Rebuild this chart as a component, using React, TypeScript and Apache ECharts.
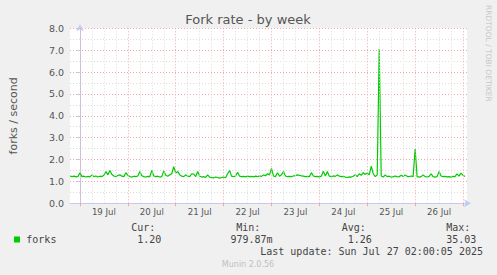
import React, { useEffect, useRef } from "react";
import * as echarts from "echarts";

// hourly values, first point = 18 Jul 19:00 (hour -5 relative to 19 Jul 00:00)
const startHour = -5;
const forks: number[] = [
  // 18 Jul 19:00-23:00
  1.25, 1.22, 1.24, 1.21, 1.23,
  // 19 Jul
  1.4, 1.22, 1.24, 1.2, 1.23, 1.21, 1.3, 1.22, 1.25, 1.2, 1.24, 1.22,
  1.28, 1.45, 1.3, 1.5, 1.32, 1.25, 1.22, 1.27, 1.3, 1.24, 1.22, 1.4,
  // 20 Jul
  1.28, 1.22, 1.2, 1.24, 1.22, 1.25, 1.45, 1.26, 1.22, 1.2, 1.23, 1.22,
  1.5, 1.25, 1.22, 1.24, 1.2, 1.22, 1.48, 1.28, 1.24, 1.3, 1.35, 1.67,
  // 21 Jul
  1.38, 1.45, 1.3, 1.24, 1.22, 1.3, 1.24, 1.22, 1.35, 1.33, 1.22, 1.45,
  1.24, 1.2, 1.22, 1.18, 1.3, 1.2, 1.18, 1.16, 1.2, 1.18, 1.15, 1.18,
  // 22 Jul
  1.2, 1.17, 1.35, 1.5, 1.24, 1.22, 1.25, 1.42, 1.24, 1.22, 1.23, 1.21,
  1.24, 1.22, 1.23, 1.21, 1.24, 1.22, 1.25, 1.23, 1.3, 1.26, 1.35, 1.3,
  // 23 Jul
  1.6, 1.25, 1.22, 1.4, 1.24, 1.3, 1.45, 1.25, 1.22, 1.23, 1.22, 1.25,
  1.26, 1.3, 1.28, 1.25, 1.24, 1.22, 1.23, 1.22, 1.4, 1.25, 1.22, 1.23,
  // 24 Jul
  1.21, 1.24, 1.47, 1.25, 1.45, 1.24, 1.22, 1.25, 1.23, 1.3, 1.24, 1.22,
  1.23, 1.2, 1.18, 1.21, 1.2, 1.24, 1.3, 1.22, 1.35, 1.28, 1.4, 1.32,
  // 25 Jul
  1.38, 1.3, 1.7, 1.35, 1.22, 1.3, 7.05, 1.25, 1.2, 1.3, 1.22, 1.24,
  1.2, 1.22, 1.25, 1.22, 1.21, 1.28, 1.22, 1.3, 1.23, 1.22, 1.25, 1.22,
  // 26 Jul
  2.48, 1.22, 1.2, 1.22, 1.3, 1.22, 1.21, 1.23, 1.35, 1.22, 1.2, 1.22,
  1.45, 1.25, 1.22, 1.23, 1.21, 1.22, 1.2, 1.23, 1.22, 1.35, 1.24, 1.38,
  // 27 Jul 00:00-01:00
  1.28, 1.22,
];

const dayLabels = ["19 Jul", "20 Jul", "21 Jul", "22 Jul", "23 Jul", "24 Jul", "25 Jul", "26 Jul"];
const legendHeaders = ["Cur:", "Min:", "Avg:", "Max:"];
const legendValues = ["1.20", "979.87m", "1.26", "35.03"];
const seriesName = "forks";
const titleText = "Fork rate - by week";
const yAxisName = "forks / second";
const lastUpdate = "Last update: Sun Jul 27 02:00:05 2025";
const footer = "Munin 2.0.56";
const sideText = "RRDTOOL / TOBI OETIKER";

const X_MIN = -5;
const X_MAX = 194;

export default function App() {
  const ref = useRef<HTMLDivElement>(null);
  useEffect(() => {
    if (!ref.current) return;
    const chart = echarts.init(ref.current, undefined, { renderer: "svg" });
    const majorHours: number[] = [];
    const minorHours: number[] = [];
    for (let h = 0; h <= X_MAX; h += 6) {
      if (h % 24 === 0) majorHours.push(h);
      else minorHours.push(h);
    }
    const labelHours = dayLabels.map((_, i) => i * 24 + 12);
    const lavender = "#c4cbf0";
    const red = "#f0a8a8";
    const gray = "#dcdcdc";
    const headerX = [131.2, 236.2, 341.8, 446.2];
    const valueX = [137.2, 230.5, 347.8, 446.2];
    const option: any = {
      animation: false,
      backgroundColor: "#f0f0f0",
      textStyle: { fontFamily: "DejaVu Sans" },
      grid: {
        left: 67,
        top: 28.3,
        width: 400,
        height: 175,
        show: true,
        backgroundColor: "#ffffff",
        borderWidth: 0,
      },
      xAxis: {
        type: "value",
        min: X_MIN,
        max: X_MAX,
        axisLine: {
          show: true,
          lineStyle: { color: lavender, width: 1 },
          symbol: ["none", "arrow"],
          symbolSize: [6, 7],
          symbolOffset: [0, 4],
        },
        axisTick: {
          show: true,
          customValues: majorHours,
          length: 3,
          lineStyle: { color: red },
        },
        axisLabel: {
          customValues: labelHours,
          formatter: (v: number) => dayLabels[Math.round((v - 12) / 24)] ?? "",
          fontSize: 8.6,
          color: "#555",
          margin: 4,
          fontFamily: "DejaVu Sans",
        },
        splitLine: { show: false },
      },
      yAxis: {
        type: "value",
        min: 0,
        max: 8,
        interval: 1,
        name: yAxisName,
        nameLocation: "middle",
        nameGap: 51,
        nameRotate: 90,
        nameTextStyle: { fontSize: 11, color: "#555", fontFamily: "DejaVu Sans" },
        axisLine: {
          show: true,
          lineStyle: { color: lavender, width: 1 },
          symbol: ["none", "arrow"],
          symbolSize: [6, 7],
          symbolOffset: [0, 4],
        },
        axisTick: { show: true, length: 3, lineStyle: { color: lavender } },
        axisLabel: {
          formatter: (v: number) => v.toFixed(1),
          fontSize: 9.5,
          color: "#555",
          margin: 6,
          fontFamily: "DejaVu Sans",
        },
        splitLine: { show: true, lineStyle: { color: red, type: [1, 2], width: 1 } },
        minorTick: { show: false, splitNumber: 2 },
        minorSplitLine: { show: true, lineStyle: { color: gray, type: [1, 2], width: 1 } },
      },
      series: [
        {
          type: "line",
          data: [],
          silent: true,
          z: 1,
          markLine: {
            silent: true,
            symbol: ["none", "none"],
            label: { show: false },
            animation: false,
            data: [
              ...minorHours.map((h) => ({ xAxis: h, lineStyle: { color: gray, type: [1, 2], width: 1 } })),
              ...majorHours.map((h) => ({ xAxis: h, lineStyle: { color: red, type: [1, 2], width: 1 } })),
            ],
          },
        },
        {
          type: "line",
          name: seriesName,
          z: 3,
          showSymbol: false,
          symbol: "none",
          data: forks.map((v, i) => [startHour + i, v]),
          lineStyle: { color: "#00cc00", width: 1.2 },
        },
      ],
      graphic: [
        {
          type: "text",
          x: 248,
          y: 19,
          style: {
            text: titleText,
            fill: "#555",
            font: "13px DejaVu Sans",
            align: "center",
            verticalAlign: "middle",
          },
        },
        {
          type: "text",
          x: 488.5,
          y: 5,
          rotation: -Math.PI / 2,
          style: {
            text: sideText,
            fill: "#c8c8c8",
            font: "7.5px DejaVu Sans",
            align: "left",
            verticalAlign: "middle",
          },
        },
        { type: "rect", shape: { x: 14, y: 236.5, width: 6, height: 6 }, style: { fill: "#00cc00" } },
        {
          type: "text",
          x: 26.3,
          y: 239.5,
          style: { text: seriesName, fill: "#444", font: "10px DejaVu Sans Mono", verticalAlign: "middle" },
        },
        ...legendHeaders.map((t, i) => ({
          type: "text",
          x: headerX[i],
          y: 227.5,
          style: { text: t, fill: "#444", font: "10px DejaVu Sans Mono", verticalAlign: "middle" },
        })),
        ...legendValues.map((t, i) => ({
          type: "text",
          x: valueX[i],
          y: 239.5,
          style: { text: t, fill: "#444", font: "10px DejaVu Sans Mono", verticalAlign: "middle" },
        })),
        {
          type: "text",
          x: 483,
          y: 251.8,
          style: {
            text: lastUpdate,
            fill: "#444",
            font: "10px DejaVu Sans Mono",
            align: "right",
            verticalAlign: "middle",
          },
        },
        {
          type: "text",
          x: 248,
          y: 264,
          style: {
            text: footer,
            fill: "#c0c0c0",
            font: "8px DejaVu Sans",
            align: "center",
            verticalAlign: "middle",
          },
        },
      ],
    };
    chart.setOption(option);
    return () => chart.dispose();
  }, []);
  return (
    <div
      ref={ref}
      style={{ position: "fixed", left: 0, top: 0, width: 497, height: 275 }}
    />
  );
}
